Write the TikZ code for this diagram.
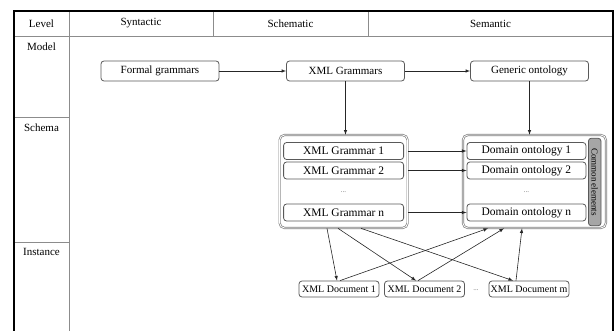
\documentclass[tikz,border=0pt]{standalone}
\usepackage{fontspec}
\setmainfont{Liberation Serif}
\usetikzlibrary{arrows,calc}

\begin{document}
\begin{tikzpicture}[x=1pt, y=-1pt, font=\fontsize{11}{13}\selectfont,
  arr/.style={-latex, black!85, line width=0.6pt},
  grid/.style={black!45, line width=0.8pt}]
\tikzstyle{box}=[draw=black!65, line width=0.8pt, rounded corners=3pt, fill=white, inner sep=0pt]
\tikzstyle{grp}=[draw=black!50, double=white, double distance=0.8pt, line width=0.7pt, rounded corners=5pt, inner sep=0pt]
\tikzstyle{row}=[box, font=\fontsize{11.5}{13}\selectfont, minimum height=17pt]
\tikzstyle{doc}=[box, font=\fontsize{10}{11}\selectfont, minimum width=80pt, minimum height=16pt]
\useasboundingbox (0,0) rectangle (615,331);
% table
\draw[grid] (14,36) -- (613,36);
\draw[grid] (69,11) -- (69,331);
\foreach \x in {213,368} \draw[grid] (\x,11) -- (\x,36);
\foreach \y in {117,242} \draw[grid] (14,\y) -- (69,\y);
\draw[line width=1.6pt] (14,331) -- (14,11) -- (613,11) -- (613,331);
\node (h0) at (41.5,23.5) {Level};
\node (h1) at (141,23.5) {Syntactic};
\node (h2) at (290.5,23.5) {Schematic};
\node (h3) at (490.5,23.5) {Semantic};
\node[anchor=north] (l1) at (41.5,39) {Model};
\node[anchor=north] (l2) at (41.5,120) {Schema};
\node[anchor=north] (l3) at (41.5,245) {Instance};
% model level
\node[box, minimum width=118pt, minimum height=20pt] (fg) at (160,71) {Formal grammars};
\node[box, minimum width=118pt, minimum height=20pt] (xg) at (345.5,71) {XML Grammars};
\node[box, minimum width=118pt, minimum height=20pt] (go) at (529.5,71) {Generic ontology};
% schema level
\node[grp, minimum width=128pt, minimum height=93pt] (gl) at (343.6,181.5) {};
\node[grp, minimum width=143pt, minimum height=93pt] (gr) at (534.4,181.5) {};
\node[row, minimum width=120pt] (g1) at (343.6,151) {XML Grammar 1};
\node[row, minimum width=120pt] (g2) at (343.6,170.5) {XML Grammar 2};
\node[font=\fontsize{7}{8}\selectfont, black!60] (gd) at (343.6,192) {...};
\node[row, minimum width=120pt] (gn) at (343.6,212.5) {XML Grammar n};
\node[row, minimum width=119pt] (d1) at (526.4,151) {Domain ontology 1};
\node[row, minimum width=119pt] (d2) at (526.4,170.5) {Domain ontology 2};
\node[font=\fontsize{7}{8}\selectfont, black!60] (dd) at (526.4,192) {...};
\node[row, minimum width=119pt] (dn) at (526.4,212.5) {Domain ontology n};
\node[box, fill=black!35, rotate=-90, minimum width=87.6pt, minimum height=12.6pt, font=\fontsize{9}{10}\selectfont] (c1) at (594.7,182) {Common elements};
% instance level
\node[doc] (x1) at (339,289) {XML Document 1};
\node[doc] (x2) at (424.5,289) {XML Document 2};
\node[font=\fontsize{7}{8}\selectfont, black!60] (xd) at (476,290) {...};
\node[doc] (xm) at (529,289) {XML Document m};
% connectors
\draw[arr] (fg) -- (xg);
\draw[arr] (xg) -- (go);
\draw[arr] (xg) -- (xg |- gl.north);
\draw[arr] (go) -- (go |- gr.north);
\foreach \i in {1,2,n}{
\draw[arr] (gl.east |- g\i) -- (d\i);
}
\foreach \s/\d/\t in {-16.6/1/-2, -5.6/2/-8.5, 17.4/m/-16}{
\draw[arr] ([xshift=\s pt]gl.south) -- ([xshift=\t pt]x\d.north);
}
\foreach \d/\s/\t in {1/1/-46.4, 2/-6.5/-30.4, m/-13/-12.4}{
\draw[arr] ([xshift=\s pt]x\d.north) -- ([xshift=\t pt]gr.south);
}
\end{tikzpicture}
\end{document}
